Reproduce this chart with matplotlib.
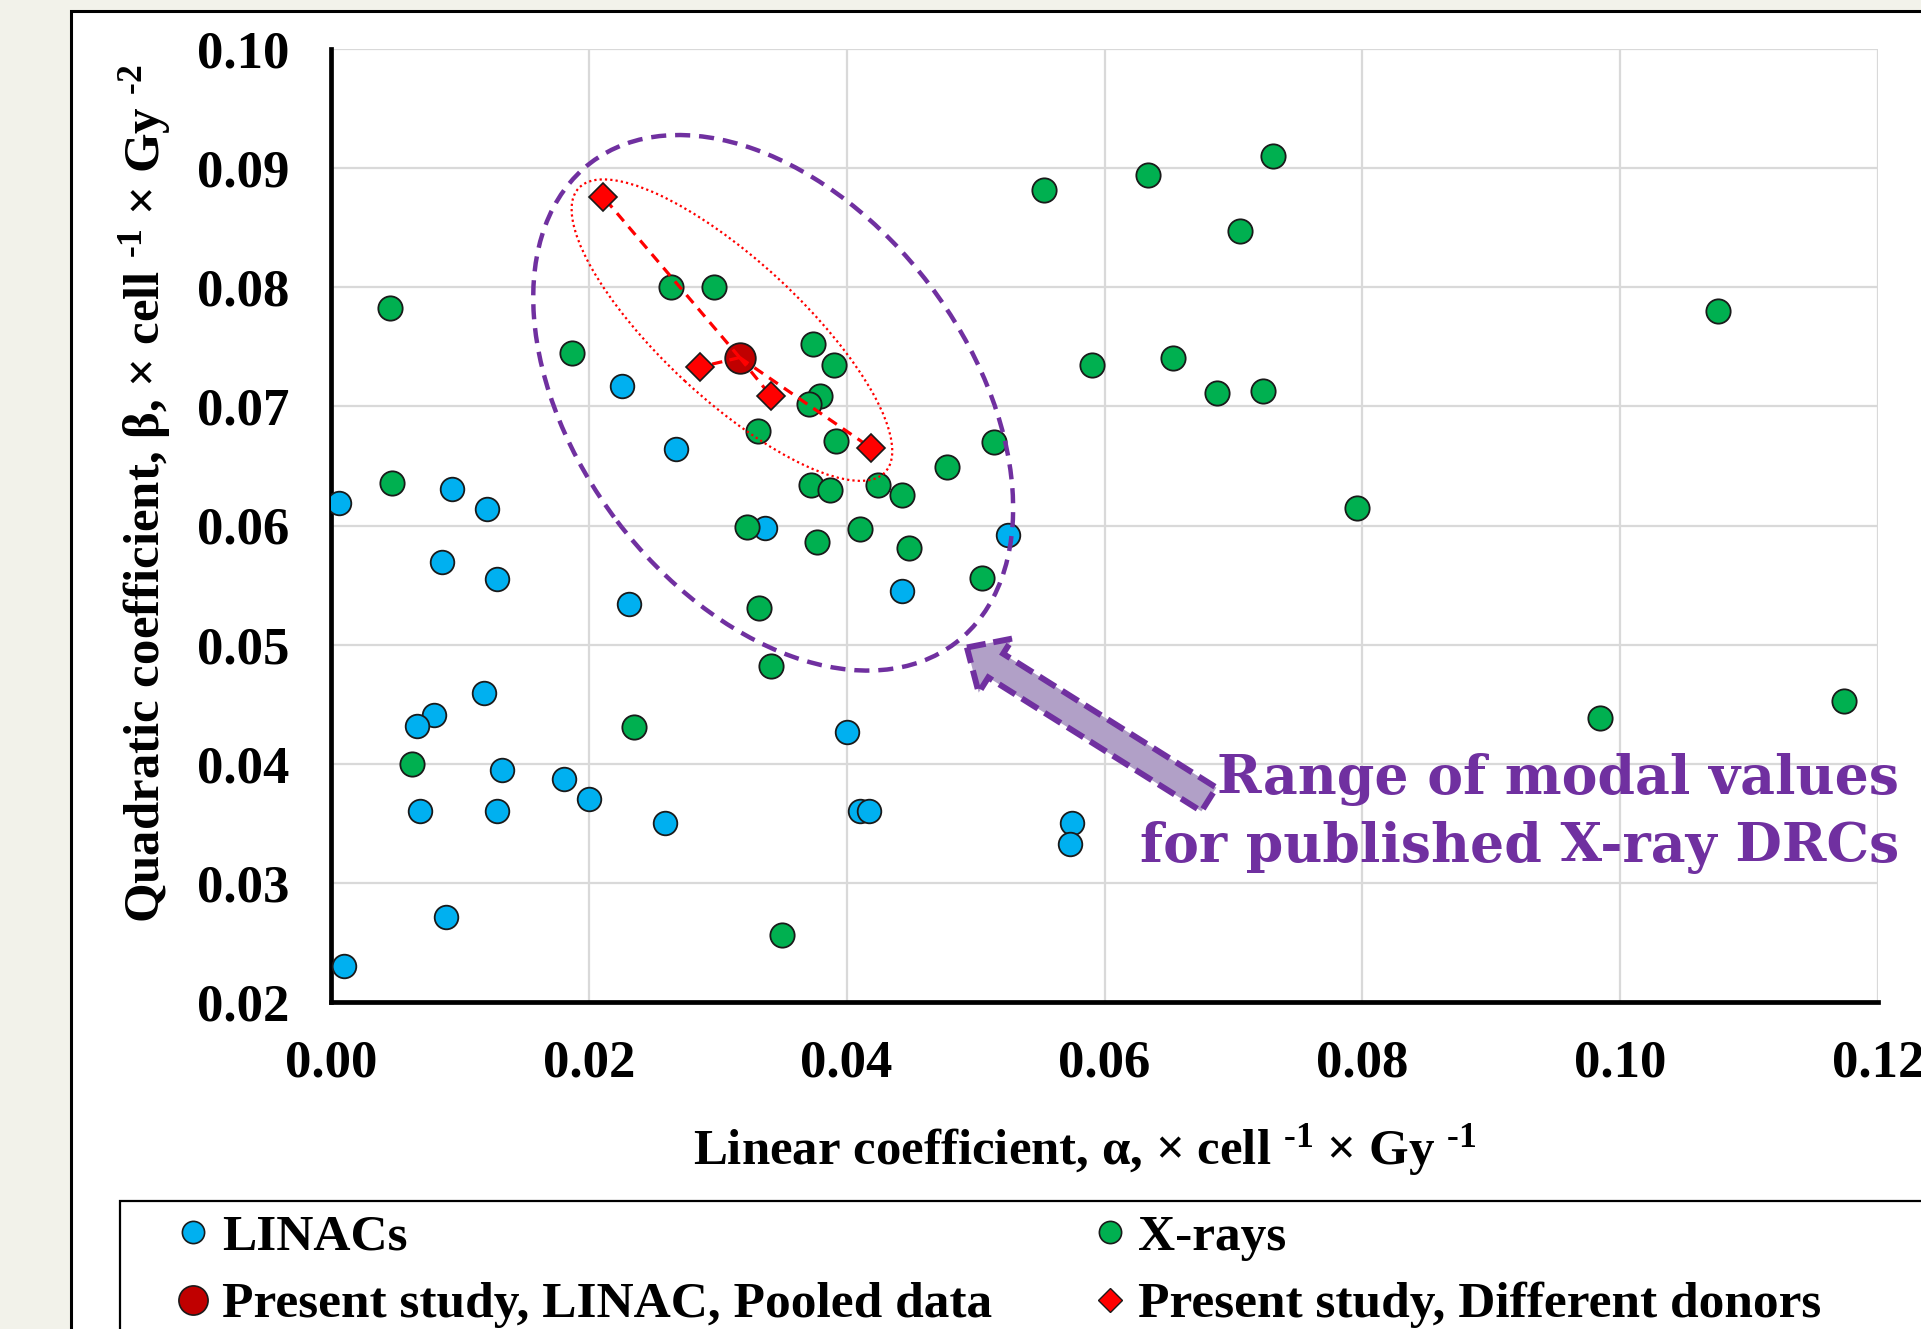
import matplotlib
matplotlib.use("Agg")
import matplotlib.pyplot as plt
from matplotlib.patches import Ellipse, FancyArrow, Rectangle
from matplotlib.lines import Line2D
from matplotlib.transforms import Affine2D

plt.rcParams['font.family'] = ['Liberation Serif', 'DejaVu Serif']
plt.rcParams['font.weight'] = 'bold'
plt.rcParams['axes.labelweight'] = 'bold'
plt.rcParams['mathtext.fontset'] = 'custom'
plt.rcParams['mathtext.rm'] = 'Liberation Serif'
plt.rcParams['mathtext.bf'] = 'Liberation Serif:bold'
plt.rcParams['mathtext.default'] = 'bf'

# published LINAC curves (alpha, beta)
linac_a = [0.0006, 0.0010, 0.0094, 0.0121, 0.0086, 0.0129, 0.0119, 0.0080, 0.0067,
           0.0069, 0.0133, 0.0129, 0.0089, 0.0181, 0.0200, 0.0259, 0.0226, 0.0268,
           0.0231, 0.0337, 0.0400, 0.0410, 0.0417, 0.0443, 0.0525, 0.0575, 0.0573]
linac_b = [0.0619, 0.0230, 0.0631, 0.0614, 0.0569, 0.0555, 0.0459, 0.0441, 0.0432,
           0.0360, 0.0395, 0.0360, 0.0271, 0.0387, 0.0370, 0.0350, 0.0717, 0.0664,
           0.0534, 0.0598, 0.0427, 0.0360, 0.0360, 0.0545, 0.0592, 0.0350, 0.0333]

# published X-ray curves (alpha, beta)
xray_a = [0.0046, 0.0047, 0.0063, 0.0187, 0.0235, 0.0264, 0.0297, 0.0331, 0.0323,
          0.0332, 0.0341, 0.0350, 0.0374, 0.0390, 0.0379, 0.0371, 0.0392, 0.0372,
          0.0387, 0.0377, 0.0410, 0.0424, 0.0443, 0.0448, 0.0478, 0.0514, 0.0505,
          0.0553, 0.0634, 0.0731, 0.0705, 0.0590, 0.0653, 0.0687, 0.0723, 0.0796,
          0.1076, 0.0984, 0.1174]
xray_b = [0.0783, 0.0636, 0.0400, 0.0745, 0.0431, 0.0800, 0.0800, 0.0679, 0.0599,
          0.0531, 0.0482, 0.0256, 0.0752, 0.0735, 0.0709, 0.0702, 0.0671, 0.0634,
          0.0630, 0.0586, 0.0597, 0.0634, 0.0626, 0.0581, 0.0649, 0.0670, 0.0556,
          0.0882, 0.0894, 0.0910, 0.0847, 0.0735, 0.0741, 0.0711, 0.0713, 0.0615,
          0.0780, 0.0438, 0.0453]

# present study
pooled_a, pooled_b = 0.0317, 0.0741
donor_a = [0.0211, 0.0286, 0.0341, 0.0419]
donor_b = [0.0876, 0.0733, 0.0709, 0.0665]

x_ticks = [0.00, 0.02, 0.04, 0.06, 0.08, 0.10, 0.12]
y_ticks = [0.02, 0.03, 0.04, 0.05, 0.06, 0.07, 0.08, 0.09, 0.10]

blue = '#00b0f0'
green = '#00b050'
purple = '#7030a0'

W, H, DPI = 1921, 1329, 100
fig = plt.figure(figsize=(W / DPI, H / DPI), dpi=DPI, facecolor='#f2f2ea')

# white slide panel and legend frame
fig.patches.append(Rectangle((71 / W, -0.2), 1.2, 1.2 - 11 / H, transform=fig.transFigure,
                             facecolor='white', edgecolor='black', lw=2.2, zorder=-2))
fig.patches.append(Rectangle((120 / W, -0.2), 1.2, 0.2 + 1 - 1201 / H, transform=fig.transFigure,
                             facecolor='none', edgecolor='black', lw=1.6, zorder=-1))

ax = fig.add_axes([331 / W, 1 - 1002 / H, 1547 / W, 953 / H])
ax.set_facecolor('none')
ax.set_xlim(0, 0.12)
ax.set_ylim(0.02, 0.10)
ax.set_xticks(x_ticks)
ax.set_yticks(y_ticks)
ax.set_xticklabels([f'{v:.2f}' for v in x_ticks])
ax.set_yticklabels([f'{v:.2f}' for v in y_ticks])
ax.tick_params(length=0, labelsize=38, pad=27)
ax.tick_params(axis='y', pad=30)
ax.grid(True, color='#d9d9d9', lw=1.6)
ax.set_axisbelow(True)
for s in ['top', 'right']:
    ax.spines[s].set_visible(False)
for s in ['left', 'bottom']:
    ax.spines[s].set_linewidth(3.4)
    ax.spines[s].set_zorder(1)

ax.set_xlabel('Linear coefficient, α, × cell $^{‐1}$ × Gy $^{‐1}$', fontsize=36.6)
ax.set_ylabel('Quadratic coefficient, β, × cell $^{‐1}$ × Gy $^{‐2}$', fontsize=36.6)
ax.xaxis.set_label_coords(0.487, -0.126)
ax.yaxis.set_label_coords(-0.102, 0.533)

ax.plot(linac_a, linac_b, 'o', ms=17, mfc=blue, mec='#1a1a1a', mew=1.3, zorder=3)
ax.plot(xray_a, xray_b, 'o', ms=17.5, mfc=green, mec='#1a1a1a', mew=1.3, zorder=3)
ax.plot(pooled_a, pooled_b, 'o', ms=22, mfc='#c00000', mec='#1a1a1a', mew=1.3, zorder=4)
for a, b in zip(donor_a, donor_b):
    ax.plot([pooled_a, a], [pooled_b, b], color='red', lw=2.3, dashes=(3.3, 2.3), zorder=5)
ax.plot(donor_a, donor_b, 'D', ms=14.5, mfc='red', mec='#1a1a1a', mew=1.2, zorder=6)

# shapes drawn in pixel units, placed in data coordinates
ax_w = W * ax.get_position().width
ax_h = H * ax.get_position().height


def px_trans(cx, cy):
    return Affine2D().scale(0.12 / ax_w, 0.08 / ax_h).translate(cx, cy) + ax.transData


ax.add_patch(Ellipse((0, 0), 2 * 301.5, 2 * 195.9, angle=-52.8, transform=px_trans(0.0343, 0.0703),
                     fill=False, edgecolor=purple, lw=3.2, linestyle=(0, (3.4, 2.0)), zorder=7))
ax.add_patch(Ellipse((0, 0), 2 * 208.9, 2 * 69.3, angle=-42.8, transform=px_trans(0.0311, 0.0764),
                     fill=False, edgecolor='red', lw=1.6, linestyle=(0, (1, 1.4)), zorder=7))
ax.add_patch(FancyArrow(0, 0, -242, 152, width=28, head_width=64, head_length=34,
                        length_includes_head=True, transform=px_trans(0.0681, 0.0370),
                        facecolor='#b1a0c7', edgecolor=purple, lw=4.3,
                        linestyle=(0, (3.2, 1.3)), zorder=8, clip_on=False))

fig.text(1899 / W, 1 - 780 / H, 'Range of modal values', ha='right', va='center',
         fontsize=38.6, color=purple, family='DejaVu Serif', weight='bold')
fig.text(1899 / W, 1 - 847 / H, 'for published X-ray DRCs', ha='right', va='center',
         fontsize=38.6, color=purple, family='DejaVu Serif', weight='bold')

handles = [
    Line2D([], [], ls='none', marker='o', ms=16, mfc=blue, mec='#1a1a1a', mew=1.2),
    Line2D([], [], ls='none', marker='o', ms=21, mfc='#c00000', mec='#1a1a1a', mew=1.2),
    Line2D([], [], ls='none', marker='o', ms=16, mfc=green, mec='#1a1a1a', mew=1.2),
    Line2D([], [], ls='none', marker='D', ms=12, mfc='red', mec='#1a1a1a', mew=1.0),
]
labels = ['LINACs', 'Present study, LINAC, Pooled data', 'X-rays', 'Present study, Different donors']
fig.legend(handles, labels, ncol=2, loc='upper left', bbox_to_anchor=(178 / W, 1 - 1214 / H),
           frameon=False, fontsize=37, handlelength=0.6, handletextpad=0.25,
           columnspacing=2.0, labelspacing=0.4, borderpad=0, borderaxespad=0)

fig.savefig('out.png', dpi=DPI, facecolor=fig.get_facecolor())
